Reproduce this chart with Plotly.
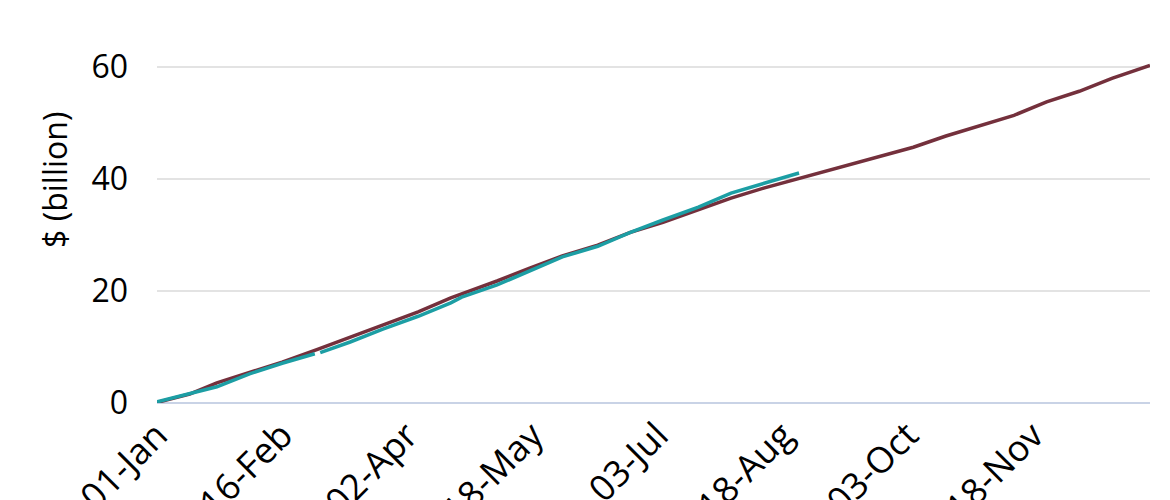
import plotly.graph_objects as go

# Previous year (full year, maroon)
prev_dates = ["2020-01-01", "2020-01-13", "2020-01-23", "2020-02-04", "2020-02-16",
              "2020-02-29", "2020-03-12", "2020-03-24", "2020-04-06", "2020-04-18",
              "2020-05-05", "2020-05-17", "2020-05-29", "2020-06-11", "2020-06-23",
              "2020-07-05", "2020-07-18", "2020-07-30", "2020-08-11", "2020-08-17",
              "2020-08-24", "2020-08-29", "2020-09-11", "2020-09-23", "2020-10-05",
              "2020-10-17", "2020-10-30", "2020-11-11", "2020-11-23", "2020-12-05",
              "2020-12-17", "2020-12-30", "2020-12-31"]
prev_values = [0.1, 1.6, 3.6, 5.5, 7.3,
               9.6, 11.8, 13.9, 16.3, 18.8,
               21.8, 24.1, 26.3, 28.2, 30.5,
               32.3, 34.5, 36.6, 38.4, 39.2,
               40.2, 40.9, 42.5, 44.1, 45.7,
               47.7, 49.6, 51.4, 53.8, 55.7,
               58.0, 60.0, 60.3]

# Current year (year to date, teal)
curr_dates = ["2020-01-01", "2020-01-13", "2020-01-23", "2020-02-04", "2020-02-16",
              "2020-02-28", "2020-02-29", "2020-03-01", "2020-03-12", "2020-03-24",
              "2020-04-06", "2020-04-18", "2020-04-22", "2020-05-05", "2020-05-17",
              "2020-05-29", "2020-06-11", "2020-06-23", "2020-07-05", "2020-07-18",
              "2020-07-30", "2020-08-11", "2020-08-24"]
curr_values = [0.2, 1.6, 2.9, 5.2, 7.1,
               8.8, None, 9.0, 10.9, 13.2,
               15.5, 17.9, 18.9, 21.1, 23.6,
               26.1, 28.0, 30.5, 32.7, 35.0,
               37.5, 39.3, 41.1]

y_ticks = [0, 20, 40, 60]
y_title = "$ (billion)"

MAROON = "#74303c"
TEAL = "#1c9ea4"
FONT = "Open Sans"
FS = 32

fig = go.Figure()
fig.add_trace(go.Scatter(x=prev_dates, y=prev_values, mode="lines",
                         line=dict(color=MAROON, width=3.5), showlegend=False))
fig.add_trace(go.Scatter(x=curr_dates, y=curr_values, mode="lines",
                         line=dict(color=TEAL, width=3.5), showlegend=False,
                         connectgaps=False))

fig.add_annotation(text=y_title, xref="paper", yref="paper",
                   x=-0.1027, y=0.643, xanchor="center", yanchor="middle",
                   textangle=-90, showarrow=False,
                   font=dict(family=FONT, size=FS, color="#000000"))

fig.update_layout(
    width=1170, height=500,
    margin=dict(l=149, r=28, t=48, b=105, autoexpand=False),
    paper_bgcolor="white", plot_bgcolor="white",
    font=dict(family=FONT, size=FS, color="#000000"),
    xaxis=dict(
        type="date",
        range=["2020-01-01", "2020-12-31"],
        tick0="2020-01-01", dtick=46 * 86400000,
        tickformat="%d-%b", tickangle=-45,
        showgrid=False, zeroline=False, showline=False,
        ticks="", automargin=False, ticklabelstandoff=3,
        tickfont=dict(family=FONT, size=36, color="#000000"),
    ),
    yaxis=dict(
        range=[0, 62], tickvals=y_ticks,
        showgrid=True, gridcolor="#e3e3e3", gridwidth=1.5,
        zeroline=True, zerolinecolor="#c9d3e6", zerolinewidth=2,
        showline=False, ticks="", automargin=False, ticklabelstandoff=28,
        tickfont=dict(family=FONT, size=FS, color="#000000"),
    ),
)

fig.write_html("out.html")
